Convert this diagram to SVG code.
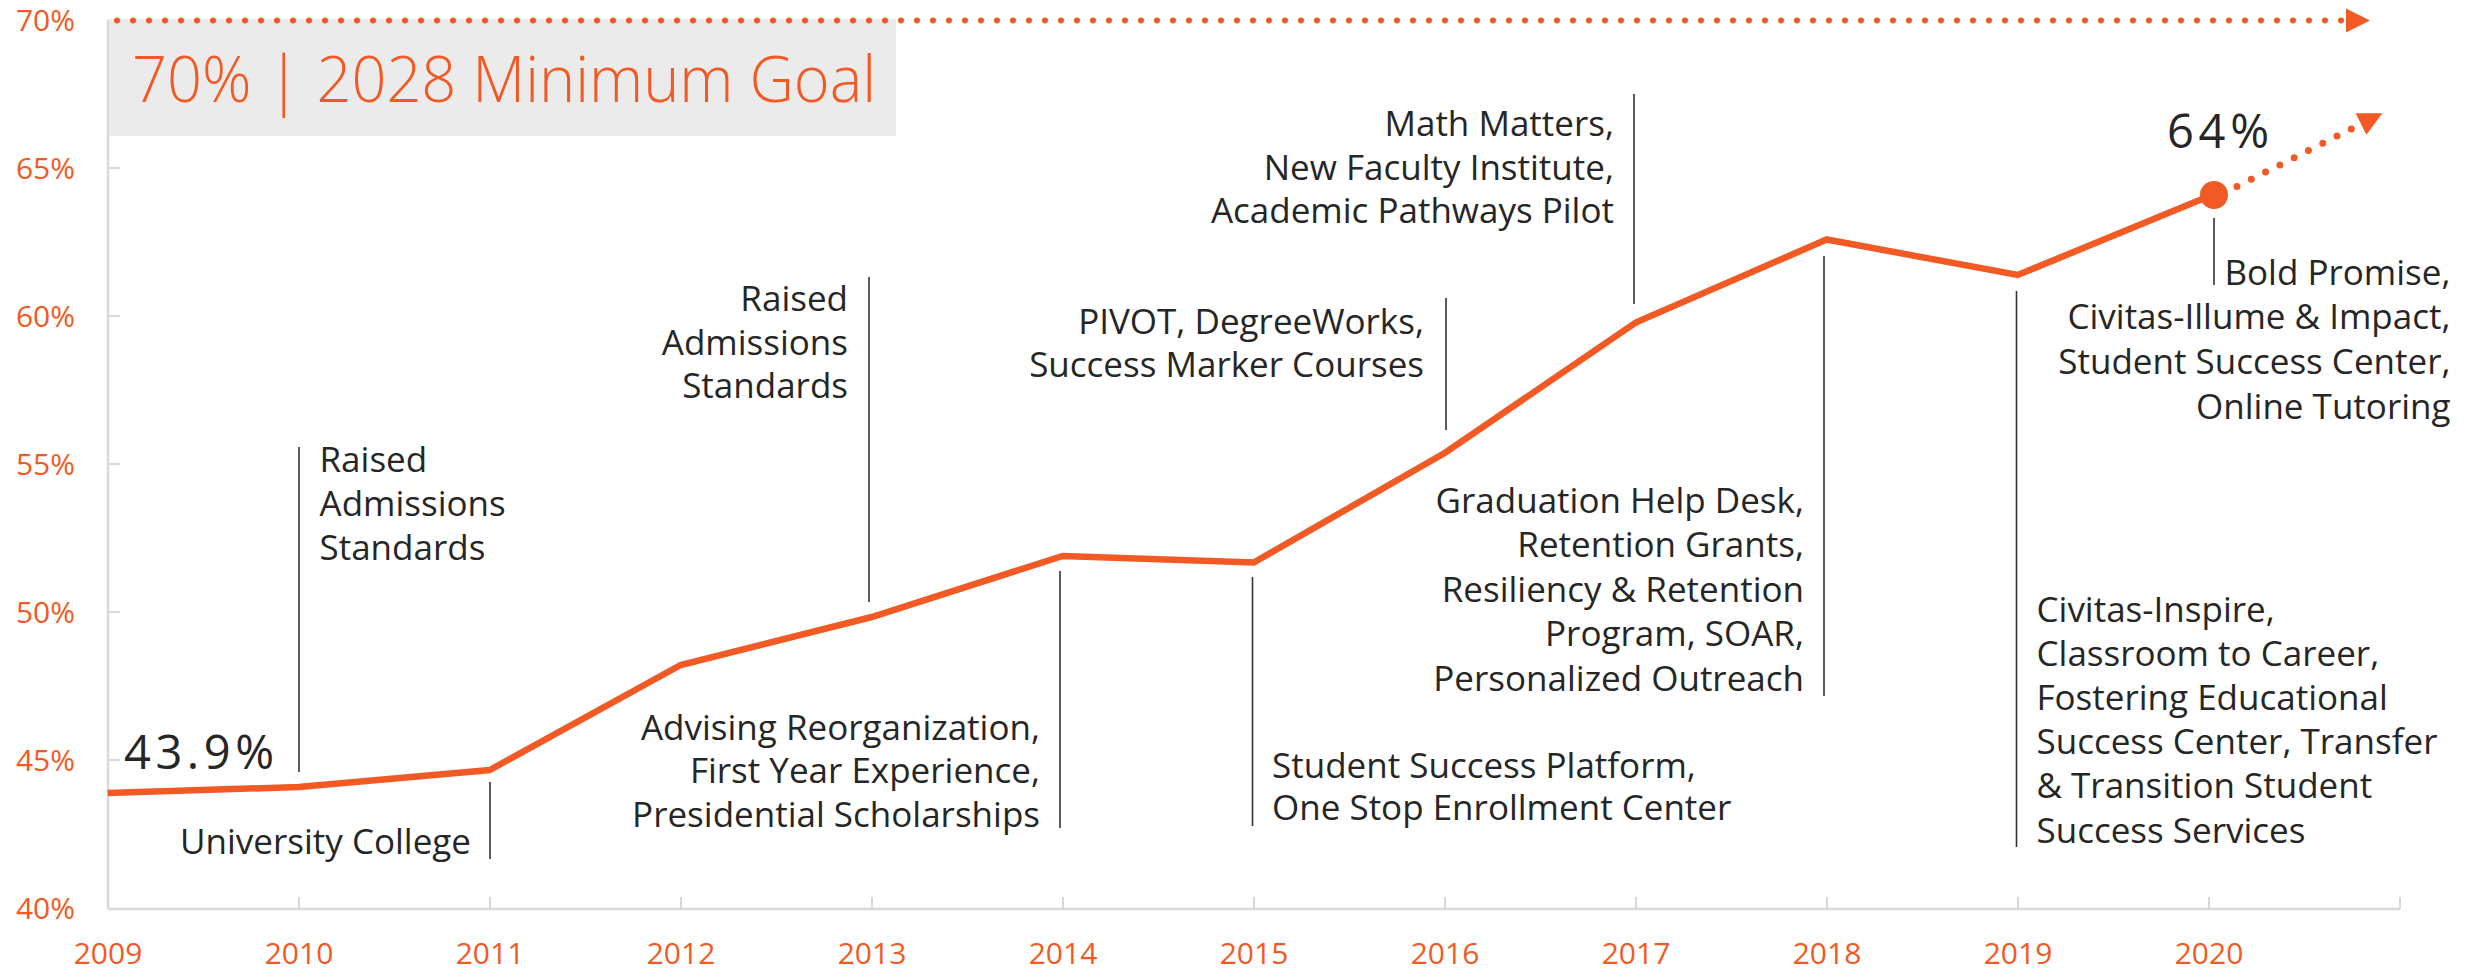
<svg xmlns="http://www.w3.org/2000/svg" width="2468" height="969" viewBox="0 0 2468 969">
<style>
.ax{stroke:#D9D9D9;stroke-width:2.5;fill:none}
.tk{stroke:#D9D9D9;stroke-width:2;fill:none}
.yl{font-family:"Open Sans","Noto Sans",sans-serif;font-size:30px;fill:#F15A24;text-anchor:end}
.xl{font-family:"Open Sans","Noto Sans",sans-serif;font-size:30px;fill:#F15A24;text-anchor:middle}
.data{stroke:#F15A24;stroke-width:6.5;fill:none;stroke-linejoin:miter}
.dot{stroke:#F15A24;stroke-width:6;fill:none;stroke-linecap:round;stroke-dasharray:0 16}
.lead{stroke:#333333;stroke-width:1.6;fill:none}
.an{font-family:"Open Sans","Noto Sans",sans-serif;font-size:35px;fill:#262626}
.r{text-anchor:end}
.val{font-family:"Open Sans","Noto Sans",sans-serif;font-weight:400;font-size:47px;fill:#262626}
</style>
<defs>
<marker id="ah" markerUnits="userSpaceOnUse" markerWidth="24" markerHeight="24" refX="0" refY="12" orient="auto" overflow="visible">
<path d="M0,0 L24,12 L0,24 Z" fill="#F15A24"/>
</marker>
</defs>
<rect width="2468" height="969" fill="#FFFFFF"/>

<g id="goal-box">
<rect x="108" y="19" width="788" height="117" fill="#EBEBEB"/>
<text x="132" y="101.5" font-family="'Open Sans','Noto Sans',sans-serif" font-weight="300" font-size="64" fill="#F15A24" textLength="744" lengthAdjust="spacingAndGlyphs">70% | 2028 Minimum Goal</text>
</g>

<g id="axes">
<line class="ax" x1="108" y1="20" x2="108" y2="909"/>
<line class="ax" x1="108" y1="909" x2="2400" y2="909"/>
<path class="tk" d="M108,168H120M108,316H120M108,464H120M108,612H120M108,760H120"/>
<path class="tk" d="M299,897V909M490,897V909M681,897V909M872,897V909M1063,897V909M1254,897V909M1445,897V909M1636,897V909M1827,897V909M2018,897V909M2209,897V909M2400,897V909"/>
</g>

<g id="y-labels">
<text class="yl" x="75" y="31">70%</text>
<text class="yl" x="75" y="179">65%</text>
<text class="yl" x="75" y="327">60%</text>
<text class="yl" x="75" y="475">55%</text>
<text class="yl" x="75" y="623">50%</text>
<text class="yl" x="75" y="771">45%</text>
<text class="yl" x="75" y="919">40%</text>
</g>

<g id="x-labels">
<text class="xl" x="108" y="964">2009</text>
<text class="xl" x="299" y="964">2010</text>
<text class="xl" x="490" y="964">2011</text>
<text class="xl" x="681" y="964">2012</text>
<text class="xl" x="872" y="964">2013</text>
<text class="xl" x="1063" y="964">2014</text>
<text class="xl" x="1254" y="964">2015</text>
<text class="xl" x="1445" y="964">2016</text>
<text class="xl" x="1636" y="964">2017</text>
<text class="xl" x="1827" y="964">2018</text>
<text class="xl" x="2018" y="964">2019</text>
<text class="xl" x="2209" y="964">2020</text>
</g>

<g id="goal-line">
<path class="dot" d="M117,20.5 L2346,20.5" marker-end="url(#ah)"/>
</g>

<g id="data-series">
<polyline class="data" points="107.7,793 298.7,787 489.7,770 680.7,665 871.7,617 1062.7,556 1253.7,562.5 1444.7,453 1635.7,322.5 1826.7,239.5 2017.7,275 2212,195"/>
<circle cx="2214" cy="195" r="14" fill="#F15A24"/>
<path class="dot" style="stroke-width:7" d="M2237,186.5 L2361,124" marker-end="url(#ah)"/>
</g>

<g id="value-labels">
<text class="val" x="124" y="769" textLength="150">43.9%</text>
<text class="val" x="2167" y="148" textLength="102">64%</text>
</g>

<g id="connectors">
<line class="lead" x1="299" y1="447" x2="299" y2="772"/>
<line class="lead" x1="490" y1="782" x2="490" y2="859"/>
<line class="lead" x1="869" y1="277" x2="869" y2="602"/>
<line class="lead" x1="1060" y1="571" x2="1060" y2="828"/>
<line class="lead" x1="1252.5" y1="577" x2="1252.5" y2="826"/>
<line class="lead" x1="1446" y1="298" x2="1446" y2="430"/>
<line class="lead" x1="1634" y1="94" x2="1634" y2="304"/>
<line class="lead" x1="1824" y1="256" x2="1824" y2="696"/>
<line class="lead" x1="2016.5" y1="291" x2="2016.5" y2="847"/>
<line class="lead" x1="2214" y1="218" x2="2214" y2="285"/>
</g>

<g id="note-2010">
<text class="an" x="319.5" y="472">Raised</text>
<text class="an" x="319.5" y="516">Admissions</text>
<text class="an" x="319.5" y="560">Standards</text>
</g>
<g id="note-2011">
<text class="an r" x="471" y="854">University College</text>
</g>
<g id="note-2013">
<text class="an r" x="848" y="311">Raised</text>
<text class="an r" x="848" y="354.5">Admissions</text>
<text class="an r" x="848" y="398">Standards</text>
</g>
<g id="note-2014">
<text class="an r" x="1040" y="740">Advising Reorganization,</text>
<text class="an r" x="1040" y="783">First Year Experience,</text>
<text class="an r" x="1040" y="827">Presidential Scholarships</text>
</g>
<g id="note-2015">
<text class="an" x="1272" y="777.5">Student Success Platform,</text>
<text class="an" x="1272" y="820">One Stop Enrollment Center</text>
</g>
<g id="note-2016">
<text class="an r" x="1424" y="334">PIVOT, DegreeWorks,</text>
<text class="an r" x="1424" y="377">Success Marker Courses</text>
</g>
<g id="note-2017">
<text class="an r" x="1614" y="136">Math Matters,</text>
<text class="an r" x="1614" y="180">New Faculty Institute,</text>
<text class="an r" x="1614" y="223">Academic Pathways Pilot</text>
</g>
<g id="note-2018">
<text class="an r" x="1804" y="513">Graduation Help Desk,</text>
<text class="an r" x="1804" y="557">Retention Grants,</text>
<text class="an r" x="1804" y="601.5">Resiliency &amp; Retention</text>
<text class="an r" x="1804" y="646">Program, SOAR,</text>
<text class="an r" x="1804" y="691">Personalized Outreach</text>
</g>
<g id="note-2019">
<text class="an" x="2036.5" y="622">Civitas-Inspire,</text>
<text class="an" x="2036.5" y="666">Classroom to Career,</text>
<text class="an" x="2036.5" y="710">Fostering Educational</text>
<text class="an" x="2036.5" y="754">Success Center, Transfer</text>
<text class="an" x="2036.5" y="798">&amp; Transition Student</text>
<text class="an" x="2036.5" y="843">Success Services</text>
</g>
<g id="note-2020">
<text class="an r" x="2450.5" y="285">Bold Promise,</text>
<text class="an r" x="2450.5" y="329">Civitas-Illume &amp; Impact,</text>
<text class="an r" x="2450.5" y="374">Student Success Center,</text>
<text class="an r" x="2450.5" y="419">Online Tutoring</text>
</g>
</svg>
